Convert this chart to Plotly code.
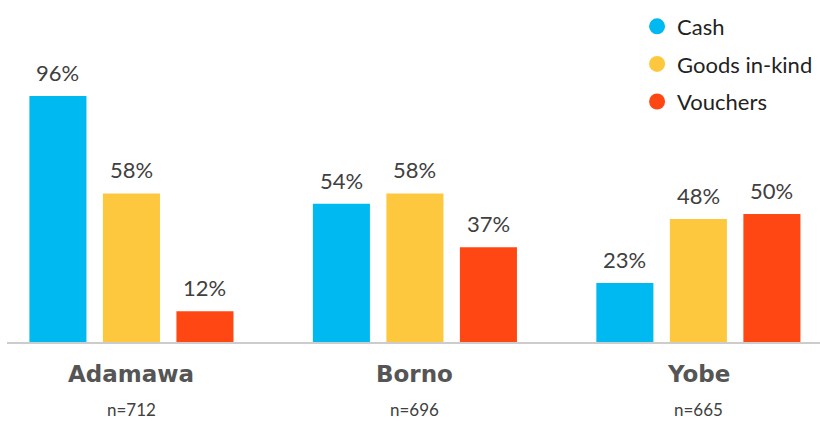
import plotly.graph_objects as go

states = ["Adamawa", "Borno", "Yobe"]
sample_sizes = ["n=712", "n=696", "n=665"]
series_names = ["Cash", "Goods in-kind", "Vouchers"]
cash = [96, 54, 23]
goods = [58, 58, 48]
vouchers = [12, 37, 50]
colors = ["#00B9F0", "#FDC83E", "#FF4713"]

FONT = "Lato, sans-serif"
TXT = "#404040"
BARGAP = 0.222
BARGROUPGAP = 0.224

fig = go.Figure()
xs = list(range(len(states)))
all_series = [cash, goods, vouchers]
slot = (1 - BARGAP) / len(all_series)
for k, (name, vals, col) in enumerate(zip(series_names, all_series, colors)):
    fig.add_trace(go.Bar(
        x=xs, y=vals, name=name, marker=dict(color=col, line=dict(width=0)),
        showlegend=False, hoverinfo="skip",
    ))
    off = (k - (len(all_series) - 1) / 2) * slot
    for i, v in enumerate(vals):
        fig.add_annotation(x=i + off, y=v, xref="x", yref="y", yanchor="bottom",
                           yshift=8, text=f"{v}%", showarrow=False,
                           font=dict(size=22, color=TXT, family=FONT))
for k, (name, col) in enumerate(zip(series_names, colors)):
    fig.add_trace(go.Scatter(
        x=[None], y=[None], mode="markers", name=name, legendgroup=f"g{k}",
        marker=dict(symbol="circle", size=18, color=col), hoverinfo="skip",
    ))

for i, (s, n) in enumerate(zip(states, sample_sizes)):
    fig.add_annotation(x=i, xref="x", y=0, yref="paper", yanchor="middle",
                       yshift=-32, text=f"<b>{s}</b>", showarrow=False,
                       font=dict(size=23, color="#555555", family="DejaVu Sans, sans-serif"))
    fig.add_annotation(x=i, xref="x", y=0, yref="paper", yanchor="middle",
                       yshift=-67, text=n, showarrow=False, borderpad=0,
                       font=dict(size=17, color=TXT, family=FONT))

fig.update_layout(
    width=820, height=421,
    margin=dict(l=7, r=0, t=20, b=79),
    paper_bgcolor="white", plot_bgcolor="white",
    barmode="group", bargap=BARGAP, bargroupgap=BARGROUPGAP,
    font=dict(family=FONT, color=TXT),
    hovermode=False,
    legend=dict(x=0.775, y=1.045, xanchor="left", yanchor="top",
                font=dict(size=22, color="#222222", family=FONT),
                tracegroupgap=6, bgcolor="rgba(0,0,0,0)"),
    xaxis=dict(range=[-0.439, 2.429], showticklabels=False, showgrid=False,
               zeroline=False, showline=True, linecolor="#cccccc", linewidth=1.5,
               ticks=""),
    yaxis=dict(range=[0, 125.7], visible=False, showgrid=False, zeroline=False),
)

fig.write_html("out.html", config={"displayModeBar": False},
               post_script="document.body.style.margin='0';")
